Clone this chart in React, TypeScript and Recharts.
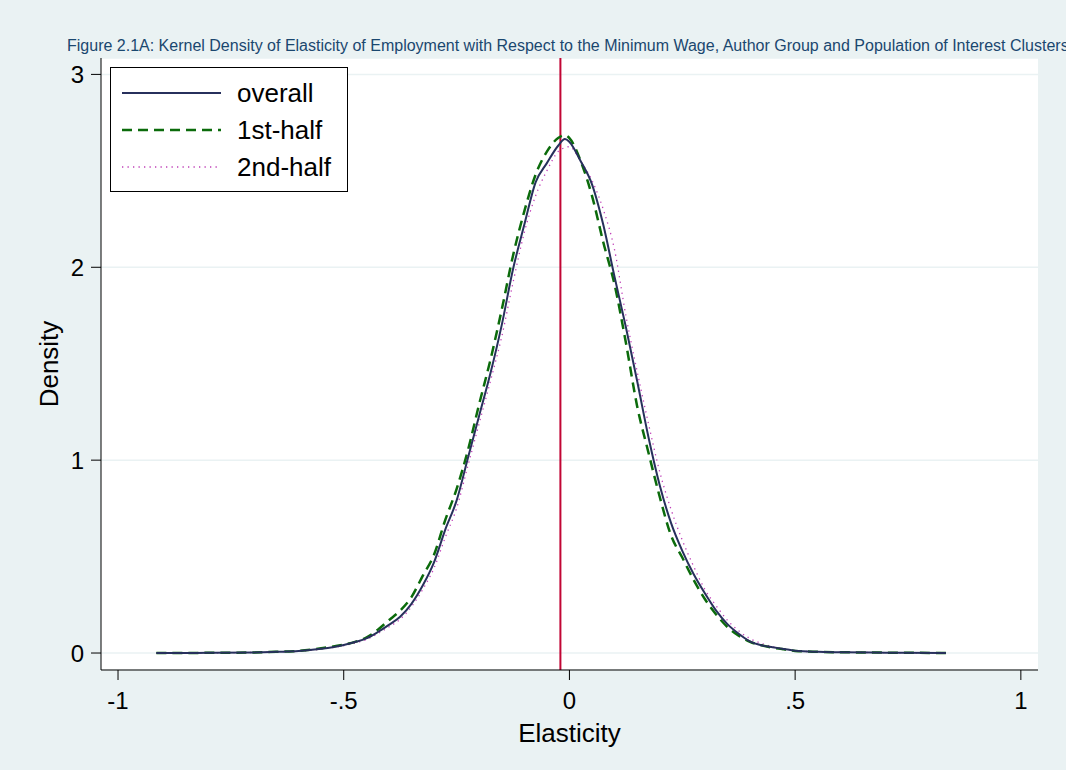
import React from 'react';
import {
  LineChart, Line, XAxis, YAxis, CartesianGrid, ReferenceLine,
} from 'recharts';

// kernel density estimates
const elasticity = [
  -0.915, -0.8, -0.7, -0.65, -0.6, -0.55,
  -0.5, -0.475, -0.45, -0.425, -0.4, -0.375, -0.35, -0.325, -0.3, -0.275,
  -0.25, -0.225, -0.2, -0.175, -0.15, -0.125, -0.1, -0.075, -0.05, -0.025,
  -0.01, 0, 0.025, 0.05, 0.075, 0.1, 0.125, 0.15, 0.175, 0.2, 0.225,
  0.25, 0.275, 0.3, 0.325, 0.35, 0.375, 0.4, 0.425, 0.45, 0.475, 0.5,
  0.55, 0.6, 0.7, 0.834,
];
const overall = [
  0, 0.001, 0.003, 0.006, 0.01, 0.022,
  0.042, 0.057, 0.076, 0.108, 0.146, 0.188, 0.255, 0.35, 0.47, 0.64,
  0.79, 1.01, 1.23, 1.45, 1.7, 1.99, 2.22, 2.44, 2.54, 2.63,
  2.665, 2.65, 2.55, 2.43, 2.22, 1.95, 1.69, 1.41, 1.12, 0.87, 0.675,
  0.53, 0.41, 0.31, 0.22, 0.15, 0.1, 0.06, 0.04, 0.03, 0.021, 0.012,
  0.006, 0.004, 0.002, 0,
];
const firstHalf = [
  0, 0.001, 0.003, 0.006, 0.011, 0.025,
  0.044, 0.058, 0.08, 0.12, 0.17, 0.22, 0.29, 0.4, 0.51, 0.69,
  0.85, 1.05, 1.29, 1.52, 1.78, 2.06, 2.29, 2.48, 2.6, 2.67,
  2.685, 2.67, 2.55, 2.37, 2.13, 1.91, 1.61, 1.28, 1.04, 0.81, 0.61,
  0.495, 0.38, 0.28, 0.2, 0.135, 0.09, 0.058, 0.04, 0.028, 0.019, 0.011,
  0.006, 0.004, 0.002, 0,
];
const secondHalf = [
  0, 0.001, 0.003, 0.005, 0.009, 0.02,
  0.038, 0.052, 0.07, 0.1, 0.135, 0.175, 0.24, 0.33, 0.44, 0.6,
  0.75, 0.97, 1.19, 1.41, 1.64, 1.92, 2.18, 2.37, 2.5, 2.6,
  2.62, 2.625, 2.55, 2.45, 2.3, 2.09, 1.75, 1.46, 1.19, 0.94, 0.745,
  0.585, 0.45, 0.33, 0.245, 0.17, 0.115, 0.075, 0.05, 0.033, 0.022, 0.012,
  0.006, 0.004, 0.002, 0,
];
const meanElasticity = -0.02;
const xTicks = [-1, -0.5, 0, 0.5, 1];
const yTicks = [0, 1, 2, 3];

const data = elasticity.map((x, i) => ({
  x, overall: overall[i], first: firstHalf[i], second: secondHalf[i],
}));

const BG = '#eaf2f3';
const FONT = '"Liberation Sans", Arial, sans-serif';
const NAVY = '#27305c';
const GREEN = '#0b6b0b';
const MAGENTA = '#c040b8';

const fmtX = (v: number) => {
  if (v === 0) return '0';
  return String(v).replace(/^(-?)0\./, '$1.');
};

const legendItems = [
  { name: 'overall', color: NAVY, dash: undefined, width: 2 },
  { name: '1st-half', color: GREEN, dash: '10 6', width: 2.5 },
  { name: '2nd-half', color: MAGENTA, dash: '1.3 4.2', width: 1.3 },
];

function LegendBox() {
  return (
    <div style={{
      position: 'absolute', left: 110, top: 67, width: 238, height: 125,
      border: '1px solid #000', background: '#fff', boxSizing: 'border-box', paddingTop: 6,
    }}>
      {legendItems.map((it) => (
        <div key={it.name} style={{ display: 'flex', alignItems: 'center', height: 37 }}>
          <svg width={115} height={10} style={{ marginLeft: 11 }}>
            <line x1={0} y1={5} x2={99} y2={5} stroke={it.color} strokeWidth={it.width} strokeDasharray={it.dash} />
          </svg>
          <span style={{ fontFamily: FONT, fontSize: 26, color: '#000', lineHeight: '30px' }}>{it.name}</span>
        </div>
      ))}
    </div>
  );
}

export default function App() {
  return (
    <div style={{ position: 'absolute', left: 0, top: 0, width: 1066, height: 770, background: BG, overflow: 'hidden' }}>
      <div style={{ position: 'absolute', left: 67, top: 37, fontFamily: FONT, fontSize: 16, color: '#1a476f', whiteSpace: 'nowrap' }}>
        Figure 2.1A: Kernel Density of Elasticity of Employment with Respect to the Minimum Wage, Author Group and Population of Interest Clusters
      </div>
      <LineChart width={1066} height={770} data={data} margin={{ top: 58, right: 28, left: 0, bottom: 0 }} style={{ position: 'absolute', left: 0, top: 0 }}>
        <CartesianGrid vertical={false} stroke={BG} strokeWidth={1.5} fill="#fff" />
        <XAxis
          dataKey="x" type="number" domain={[-1.0377, 1.038]} ticks={xTicks} allowDataOverflow
          tickFormatter={fmtX} height={100} tickSize={10} tickMargin={12}
          stroke="#000" tick={{ fill: '#000', fontSize: 24, fontFamily: FONT }}
          label={{ value: 'Elasticity', position: 'center', dy: 13, fill: '#000', fontSize: 26, fontFamily: FONT }}
        />
        <YAxis
          type="number" domain={[-0.088, 3.085]} ticks={yTicks} allowDataOverflow width={101}
          tickSize={10} tickMargin={7} stroke="#000" tick={{ fill: '#000', fontSize: 24, fontFamily: FONT }}
          label={{ value: 'Density', angle: -90, position: 'center', dx: -2, fill: '#000', fontSize: 26, fontFamily: FONT }}
        />
        <ReferenceLine x={meanElasticity} stroke="#c10534" strokeWidth={2} />
        <Line dataKey="second" type="monotone" stroke={MAGENTA} strokeWidth={1.3} strokeDasharray="1.3 4.2" dot={false} isAnimationActive={false} />
        <Line dataKey="first" type="monotone" stroke={GREEN} strokeWidth={2.5} strokeDasharray="10 6" dot={false} isAnimationActive={false} />
        <Line dataKey="overall" type="monotone" stroke={NAVY} strokeWidth={2} dot={false} isAnimationActive={false} />
      </LineChart>
      <LegendBox />
    </div>
  );
}
